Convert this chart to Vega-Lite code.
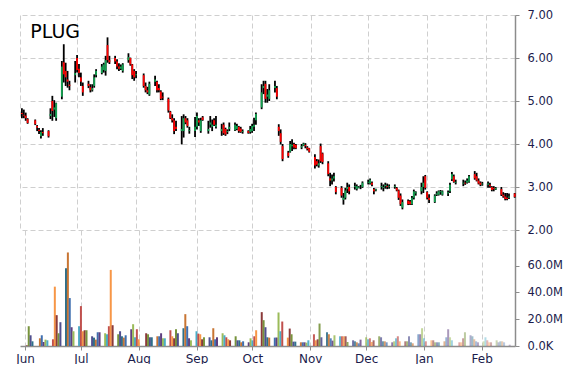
{
  "$schema": "https://vega.github.io/schema/vega-lite/v6.json",
  "background": "white",
  "padding": {"left": 15, "top": 9, "right": 0, "bottom": 0},
  "spacing": 0,
  "bounds": "flush",
  "config": {
    "view": {"stroke": null},
    "font": "DejaVu Sans",
    "axis": {
      "gridColor": "#cfcfcf", "gridDash": [5, 3], "gridWidth": 1,
      "domainColor": "#8c8c8c", "domainWidth": 1.5,
      "tickColor": "#8c8c8c", "tickSize": 4,
      "labelColor": "#1c1c4c", "labelFont": "DejaVu Sans", "labelFontSize": 11.5,
      "title": null
    }
  },
  "datasets": {
    "px": [
      {"d":"2014-06-02","o":4.72,"h":4.83,"l":4.60,"c":4.70,"v":0.5},
      {"d":"2014-06-03","o":4.68,"h":4.80,"l":4.60,"c":4.66,"v":14.75},
      {"d":"2014-06-04","o":4.66,"h":4.73,"l":4.54,"c":4.60,"v":8},
      {"d":"2014-06-05","o":4.58,"h":4.60,"l":4.47,"c":4.49,"v":3.5},
      {"d":"2014-06-09","o":4.55,"h":4.57,"l":4.44,"c":4.46,"v":5.75},
      {"d":"2014-06-10","o":4.42,"h":4.44,"l":4.30,"c":4.38,"v":8},
      {"d":"2014-06-11","o":4.33,"h":4.37,"l":4.23,"c":4.30,"v":3},
      {"d":"2014-06-12","o":4.18,"h":4.32,"l":4.13,"c":4.28,"v":4.75},
      {"d":"2014-06-13","o":4.28,"h":4.37,"l":4.19,"c":4.25,"v":4.25},
      {"d":"2014-06-16","o":4.30,"h":4.32,"l":4.15,"c":4.18,"v":5},
      {"d":"2014-06-17","o":4.65,"h":4.83,"l":4.58,"c":4.70,"v":44.25},
      {"d":"2014-06-18","o":5.00,"h":5.12,"l":4.54,"c":4.77,"v":23},
      {"d":"2014-06-19","o":4.80,"h":5.02,"l":4.63,"c":4.85,"v":9.5},
      {"d":"2014-06-20","o":4.60,"h":4.96,"l":4.54,"c":4.95,"v":17.75},
      {"d":"2014-06-23","o":5.10,"h":5.93,"l":5.04,"c":5.80,"v":58},
      {"d":"2014-06-24","o":5.90,"h":6.32,"l":5.43,"c":5.62,"v":69.75},
      {"d":"2014-06-25","o":5.70,"h":5.89,"l":5.35,"c":5.55,"v":35.75},
      {"d":"2014-06-26","o":5.50,"h":5.70,"l":5.31,"c":5.45,"v":14},
      {"d":"2014-06-27","o":5.38,"h":5.47,"l":5.25,"c":5.35,"v":11},
      {"d":"2014-06-30","o":5.60,"h":5.93,"l":5.43,"c":5.65,"v":14.75},
      {"d":"2014-07-01","o":6.00,"h":6.07,"l":5.66,"c":5.72,"v":29.75},
      {"d":"2014-07-02","o":5.75,"h":5.86,"l":5.55,"c":5.65,"v":11},
      {"d":"2014-07-03","o":5.55,"h":5.66,"l":5.35,"c":5.45,"v":11.75},
      {"d":"2014-07-04","o":5.35,"h":5.43,"l":5.12,"c":5.20,"v":11.75},
      {"d":"2014-07-07","o":5.40,"h":5.47,"l":5.30,"c":5.35,"v":7.25},
      {"d":"2014-07-08","o":5.32,"h":5.39,"l":5.20,"c":5.25,"v":6.25},
      {"d":"2014-07-09","o":5.25,"h":5.39,"l":5.22,"c":5.30,"v":4.75},
      {"d":"2014-07-10","o":5.35,"h":5.62,"l":5.31,"c":5.55,"v":10.25},
      {"d":"2014-07-11","o":5.60,"h":5.74,"l":5.55,"c":5.70,"v":10.25},
      {"d":"2014-07-14","o":5.65,"h":5.86,"l":5.62,"c":5.80,"v":9.5},
      {"d":"2014-07-15","o":5.72,"h":5.89,"l":5.66,"c":5.85,"v":8.75},
      {"d":"2014-07-16","o":5.70,"h":6.05,"l":5.59,"c":5.95,"v":14.75},
      {"d":"2014-07-17","o":6.30,"h":6.48,"l":5.89,"c":5.95,"v":56.75},
      {"d":"2014-07-18","o":5.95,"h":6.05,"l":5.86,"c":5.90,"v":15.5},
      {"d":"2014-07-21","o":6.00,"h":6.05,"l":5.86,"c":5.92,"v":8.75},
      {"d":"2014-07-22","o":5.92,"h":5.97,"l":5.74,"c":5.80,"v":11},
      {"d":"2014-07-23","o":5.80,"h":5.88,"l":5.70,"c":5.75,"v":7.25},
      {"d":"2014-07-24","o":5.75,"h":5.85,"l":5.72,"c":5.80,"v":6.25},
      {"d":"2014-07-25","o":5.70,"h":5.88,"l":5.66,"c":5.85,"v":8},
      {"d":"2014-07-28","o":5.95,"h":6.11,"l":5.89,"c":6.02,"v":12.5},
      {"d":"2014-07-29","o":6.00,"h":6.01,"l":5.82,"c":5.85,"v":16.25},
      {"d":"2014-07-30","o":5.85,"h":5.86,"l":5.51,"c":5.60,"v":6.5},
      {"d":"2014-07-31","o":5.70,"h":5.74,"l":5.47,"c":5.55,"v":12.5},
      {"d":"2014-08-01","o":5.60,"h":5.70,"l":5.53,"c":5.62,"v":5},
      {"d":"2014-08-05","o":5.60,"h":5.64,"l":5.31,"c":5.35,"v":9.5},
      {"d":"2014-08-06","o":5.35,"h":5.43,"l":5.20,"c":5.25,"v":8.75},
      {"d":"2014-08-07","o":5.25,"h":5.33,"l":5.16,"c":5.20,"v":6.5},
      {"d":"2014-08-08","o":5.15,"h":5.45,"l":5.12,"c":5.40,"v":6.5},
      {"d":"2014-08-11","o":5.45,"h":5.59,"l":5.35,"c":5.50,"v":7.25},
      {"d":"2014-08-12","o":5.45,"h":5.47,"l":5.20,"c":5.25,"v":7.25},
      {"d":"2014-08-13","o":5.30,"h":5.39,"l":5.20,"c":5.25,"v":9.5},
      {"d":"2014-08-14","o":5.22,"h":5.25,"l":5.02,"c":5.05,"v":5.75},
      {"d":"2014-08-15","o":5.10,"h":5.20,"l":5.02,"c":5.08,"v":5.75},
      {"d":"2014-08-18","o":5.05,"h":5.08,"l":4.73,"c":4.78,"v":11.75},
      {"d":"2014-08-19","o":4.75,"h":4.77,"l":4.58,"c":4.60,"v":7.25},
      {"d":"2014-08-20","o":4.60,"h":4.69,"l":4.50,"c":4.55,"v":5.75},
      {"d":"2014-08-21","o":4.55,"h":4.60,"l":4.23,"c":4.30,"v":12.5},
      {"d":"2014-08-22","o":4.40,"h":4.54,"l":4.30,"c":4.35,"v":9.5},
      {"d":"2014-08-25","o":4.30,"h":4.65,"l":3.99,"c":4.35,"v":13.25},
      {"d":"2014-08-26","o":4.30,"h":4.69,"l":4.15,"c":4.60,"v":23.75},
      {"d":"2014-08-27","o":4.60,"h":4.65,"l":4.46,"c":4.50,"v":14.75},
      {"d":"2014-08-28","o":4.55,"h":4.60,"l":4.38,"c":4.42,"v":5.75},
      {"d":"2014-08-29","o":4.30,"h":4.40,"l":4.24,"c":4.32,"v":4.25},
      {"d":"2014-09-01","o":4.30,"h":4.63,"l":4.16,"c":4.40,"v":11},
      {"d":"2014-09-02","o":4.40,"h":4.73,"l":4.34,"c":4.65,"v":9.25},
      {"d":"2014-09-03","o":4.55,"h":4.60,"l":4.42,"c":4.50,"v":8.75},
      {"d":"2014-09-04","o":4.30,"h":4.61,"l":4.26,"c":4.55,"v":5},
      {"d":"2014-09-05","o":4.62,"h":4.65,"l":4.54,"c":4.56,"v":6.5},
      {"d":"2014-09-08","o":4.30,"h":4.54,"l":4.24,"c":4.35,"v":6.5},
      {"d":"2014-09-09","o":4.45,"h":4.65,"l":4.38,"c":4.50,"v":4.25},
      {"d":"2014-09-10","o":4.40,"h":4.57,"l":4.30,"c":4.45,"v":13.25},
      {"d":"2014-09-11","o":4.55,"h":4.60,"l":4.42,"c":4.45,"v":5},
      {"d":"2014-09-12","o":4.40,"h":4.65,"l":4.36,"c":4.45,"v":6.5},
      {"d":"2014-09-15","o":4.30,"h":4.47,"l":4.19,"c":4.35,"v":9.5},
      {"d":"2014-09-16","o":4.45,"h":4.50,"l":4.21,"c":4.25,"v":8},
      {"d":"2014-09-17","o":4.35,"h":4.38,"l":4.19,"c":4.22,"v":6.5},
      {"d":"2014-09-18","o":4.28,"h":4.34,"l":4.23,"c":4.30,"v":5},
      {"d":"2014-09-19","o":4.35,"h":4.50,"l":4.30,"c":4.40,"v":4.25},
      {"d":"2014-09-22","o":4.32,"h":4.50,"l":4.30,"c":4.45,"v":7.25},
      {"d":"2014-09-23","o":4.35,"h":4.47,"l":4.32,"c":4.42,"v":4.25},
      {"d":"2014-09-24","o":4.40,"h":4.42,"l":4.26,"c":4.30,"v":4.25},
      {"d":"2014-09-25","o":4.36,"h":4.40,"l":4.26,"c":4.28,"v":2.75},
      {"d":"2014-09-26","o":4.28,"h":4.34,"l":4.24,"c":4.30,"v":3.5},
      {"d":"2014-09-29","o":4.30,"h":4.32,"l":4.24,"c":4.26,"v":2.75},
      {"d":"2014-09-30","o":4.28,"h":4.42,"l":4.24,"c":4.35,"v":5.75},
      {"d":"2014-10-01","o":4.30,"h":4.47,"l":4.26,"c":4.42,"v":4.25},
      {"d":"2014-10-02","o":4.40,"h":4.61,"l":4.30,"c":4.45,"v":7.25},
      {"d":"2014-10-03","o":4.55,"h":4.73,"l":4.45,"c":4.70,"v":11.75},
      {"d":"2014-10-06","o":4.85,"h":5.39,"l":4.81,"c":5.20,"v":25.25},
      {"d":"2014-10-07","o":5.30,"h":5.47,"l":5.16,"c":5.35,"v":19.25},
      {"d":"2014-10-08","o":5.40,"h":5.47,"l":4.96,"c":5.05,"v":14},
      {"d":"2014-10-09","o":5.10,"h":5.28,"l":4.96,"c":5.15,"v":6.5},
      {"d":"2014-10-10","o":5.05,"h":5.39,"l":5.00,"c":5.25,"v":6.25},
      {"d":"2014-10-13","o":5.30,"h":5.47,"l":5.20,"c":5.35,"v":6.25},
      {"d":"2014-10-14","o":5.30,"h":5.35,"l":5.04,"c":5.10,"v":6.25},
      {"d":"2014-10-15","o":4.40,"h":4.46,"l":4.19,"c":4.30,"v":25},
      {"d":"2014-10-16","o":4.25,"h":4.34,"l":3.99,"c":4.05,"v":11},
      {"d":"2014-10-17","o":3.95,"h":4.00,"l":3.60,"c":3.65,"v":18.25},
      {"d":"2014-10-20","o":3.80,"h":3.84,"l":3.68,"c":3.72,"v":6.25},
      {"d":"2014-10-21","o":3.82,"h":4.07,"l":3.80,"c":4.00,"v":13},
      {"d":"2014-10-22","o":3.95,"h":4.11,"l":3.84,"c":3.98,"v":8.75},
      {"d":"2014-10-23","o":4.00,"h":4.03,"l":3.88,"c":3.92,"v":3.25},
      {"d":"2014-10-24","o":3.98,"h":4.00,"l":3.88,"c":3.90,"v":3.25},
      {"d":"2014-10-27","o":3.92,"h":4.00,"l":3.88,"c":3.95,"v":2.75},
      {"d":"2014-10-28","o":3.96,"h":4.03,"l":3.95,"c":4.01,"v":2.75},
      {"d":"2014-10-29","o":3.98,"h":4.02,"l":3.90,"c":3.95,"v":2.75},
      {"d":"2014-10-30","o":3.92,"h":3.95,"l":3.85,"c":3.88,"v":2.5},
      {"d":"2014-10-31","o":3.90,"h":3.91,"l":3.80,"c":3.82,"v":4.25},
      {"d":"2014-11-03","o":3.70,"h":3.76,"l":3.43,"c":3.50,"v":8.75},
      {"d":"2014-11-04","o":3.60,"h":3.65,"l":3.48,"c":3.52,"v":4.25},
      {"d":"2014-11-05","o":3.50,"h":3.64,"l":3.45,"c":3.55,"v":5},
      {"d":"2014-11-06","o":3.95,"h":4.01,"l":3.56,"c":3.60,"v":16.75},
      {"d":"2014-11-07","o":3.78,"h":3.80,"l":3.53,"c":3.58,"v":6.5},
      {"d":"2014-11-10","o":3.55,"h":3.60,"l":3.25,"c":3.30,"v":10.25},
      {"d":"2014-11-11","o":3.20,"h":3.33,"l":3.02,"c":3.15,"v":8.75},
      {"d":"2014-11-12","o":3.15,"h":3.29,"l":3.06,"c":3.20,"v":5.75},
      {"d":"2014-11-13","o":3.20,"h":3.33,"l":3.13,"c":3.25,"v":4},
      {"d":"2014-11-14","o":3.00,"h":3.02,"l":2.83,"c":2.88,"v":8},
      {"d":"2014-11-17","o":2.98,"h":3.02,"l":2.75,"c":2.80,"v":7.25},
      {"d":"2014-11-18","o":2.70,"h":2.86,"l":2.59,"c":2.75,"v":7.25},
      {"d":"2014-11-19","o":2.75,"h":2.98,"l":2.71,"c":2.92,"v":7.25},
      {"d":"2014-11-20","o":2.95,"h":3.10,"l":2.86,"c":3.00,"v":7.25},
      {"d":"2014-11-21","o":3.00,"h":3.06,"l":2.83,"c":2.90,"v":3},
      {"d":"2014-11-24","o":3.00,"h":3.10,"l":2.94,"c":3.02,"v":4.25},
      {"d":"2014-11-25","o":2.95,"h":3.06,"l":2.92,"c":3.02,"v":3.5},
      {"d":"2014-11-26","o":2.98,"h":3.02,"l":2.97,"c":3.00,"v":2.75},
      {"d":"2014-11-27","o":3.00,"h":3.05,"l":2.95,"c":3.00,"v":2},
      {"d":"2014-11-28","o":3.00,"h":3.13,"l":2.98,"c":3.10,"v":4.75},
      {"d":"2014-12-01","o":3.10,"h":3.17,"l":3.06,"c":3.12,"v":6.5},
      {"d":"2014-12-02","o":3.08,"h":3.20,"l":3.06,"c":3.17,"v":5},
      {"d":"2014-12-03","o":3.10,"h":3.13,"l":3.02,"c":3.05,"v":5.75},
      {"d":"2014-12-04","o":2.95,"h":2.98,"l":2.83,"c":2.90,"v":3},
      {"d":"2014-12-05","o":2.92,"h":2.96,"l":2.90,"c":2.95,"v":4.25},
      {"d":"2014-12-08","o":3.00,"h":3.10,"l":2.94,"c":3.02,"v":7.25},
      {"d":"2014-12-09","o":2.98,"h":3.06,"l":2.90,"c":3.00,"v":6.5},
      {"d":"2014-12-10","o":3.02,"h":3.10,"l":2.96,"c":3.05,"v":3.5},
      {"d":"2014-12-11","o":3.02,"h":3.08,"l":2.95,"c":3.00,"v":3.5},
      {"d":"2014-12-12","o":3.00,"h":3.06,"l":2.96,"c":3.02,"v":2.75},
      {"d":"2014-12-15","o":3.00,"h":3.06,"l":2.96,"c":3.02,"v":2.75},
      {"d":"2014-12-16","o":2.98,"h":3.00,"l":2.90,"c":2.92,"v":3.5},
      {"d":"2014-12-17","o":2.92,"h":2.94,"l":2.70,"c":2.75,"v":5.75},
      {"d":"2014-12-18","o":2.80,"h":2.85,"l":2.56,"c":2.60,"v":7.25},
      {"d":"2014-12-19","o":2.52,"h":2.71,"l":2.48,"c":2.65,"v":3.5},
      {"d":"2014-12-22","o":2.68,"h":2.71,"l":2.58,"c":2.60,"v":3.5},
      {"d":"2014-12-23","o":2.66,"h":2.70,"l":2.58,"c":2.60,"v":3.5},
      {"d":"2014-12-24","o":2.60,"h":2.79,"l":2.58,"c":2.75,"v":7.25},
      {"d":"2014-12-25","o":2.75,"h":2.94,"l":2.71,"c":2.90,"v":2.75},
      {"d":"2014-12-26","o":2.85,"h":2.90,"l":2.80,"c":2.88,"v":2},
      {"d":"2014-12-29","o":2.90,"h":3.10,"l":2.83,"c":3.00,"v":8.75},
      {"d":"2014-12-30","o":3.00,"h":3.25,"l":2.86,"c":3.10,"v":8.75},
      {"d":"2014-12-31","o":3.25,"h":3.28,"l":2.94,"c":2.98,"v":13.25},
      {"d":"2015-01-01","o":2.88,"h":2.90,"l":2.71,"c":2.75,"v":5.75},
      {"d":"2015-01-02","o":2.75,"h":2.83,"l":2.63,"c":2.70,"v":3.5},
      {"d":"2015-01-05","o":2.65,"h":2.83,"l":2.63,"c":2.80,"v":4.25},
      {"d":"2015-01-06","o":2.82,"h":2.90,"l":2.79,"c":2.85,"v":4.25},
      {"d":"2015-01-07","o":2.82,"h":2.92,"l":2.80,"c":2.90,"v":2.75},
      {"d":"2015-01-08","o":2.88,"h":2.93,"l":2.82,"c":2.90,"v":2.75},
      {"d":"2015-01-09","o":2.82,"h":2.92,"l":2.80,"c":2.90,"v":2.75},
      {"d":"2015-01-12","o":2.85,"h":2.92,"l":2.79,"c":2.88,"v":3.5},
      {"d":"2015-01-13","o":2.90,"h":3.10,"l":2.86,"c":3.05,"v":6.5},
      {"d":"2015-01-14","o":3.18,"h":3.35,"l":3.14,"c":3.30,"v":12.5},
      {"d":"2015-01-15","o":3.25,"h":3.29,"l":3.10,"c":3.12,"v":6.5},
      {"d":"2015-01-16","o":3.10,"h":3.17,"l":3.06,"c":3.12,"v":4.25},
      {"d":"2015-01-20","o":3.08,"h":3.17,"l":3.02,"c":3.10,"v":2.75},
      {"d":"2015-01-21","o":3.10,"h":3.15,"l":3.05,"c":3.08,"v":2.75},
      {"d":"2015-01-22","o":3.10,"h":3.20,"l":3.08,"c":3.15,"v":5.75},
      {"d":"2015-01-23","o":3.12,"h":3.28,"l":3.10,"c":3.25,"v":10.25},
      {"d":"2015-01-26","o":3.30,"h":3.37,"l":3.17,"c":3.20,"v":8},
      {"d":"2015-01-27","o":3.25,"h":3.33,"l":3.13,"c":3.15,"v":7.25},
      {"d":"2015-01-28","o":3.15,"h":3.20,"l":3.06,"c":3.08,"v":5},
      {"d":"2015-01-29","o":3.10,"h":3.13,"l":3.02,"c":3.05,"v":3.5},
      {"d":"2015-01-30","o":3.06,"h":3.12,"l":3.03,"c":3.08,"v":2.75},
      {"d":"2015-02-02","o":3.05,"h":3.13,"l":2.98,"c":3.08,"v":3.5},
      {"d":"2015-02-03","o":3.05,"h":3.10,"l":2.98,"c":3.02,"v":6.5},
      {"d":"2015-02-04","o":3.00,"h":3.02,"l":2.90,"c":2.93,"v":4.25},
      {"d":"2015-02-05","o":2.98,"h":3.02,"l":2.90,"c":2.95,"v":2.75},
      {"d":"2015-02-06","o":2.94,"h":3.00,"l":2.93,"c":2.98,"v":2.75},
      {"d":"2015-02-09","o":2.95,"h":3.00,"l":2.79,"c":2.82,"v":4.25},
      {"d":"2015-02-10","o":2.82,"h":2.88,"l":2.75,"c":2.78,"v":2.75},
      {"d":"2015-02-11","o":2.78,"h":2.86,"l":2.69,"c":2.72,"v":3.5},
      {"d":"2015-02-12","o":2.75,"h":2.86,"l":2.69,"c":2.72,"v":3.5},
      {"d":"2015-02-13","o":2.75,"h":2.85,"l":2.72,"c":2.78,"v":2.75},
      {"d":"2015-02-16","o":2.85,"h":2.86,"l":2.75,"c":2.77,"v":1}
    ]
  },
  "data": {"name": "px"},
  "vconcat": [
    {
      "width": 495,
      "height": 215,
      "layer": [
        {
          "mark": {"type": "rule", "strokeWidth": 1.8, "color": "#000000"},
          "encoding": {
            "x": {
              "field": "d", "type": "temporal",
              "scale": {"type": "utc", "domain": [{"year": 2014, "month": 6, "date": 1, "utc": true}, {"year": 2015, "month": 2, "date": 16, "hours": 4, "utc": true}]},
              "axis": {"orient": "bottom", "labels": false, "ticks": false, "domain": false, "grid": true, "tickCount": "month", "title": null}
            },
            "y": {
              "field": "h", "type": "quantitative",
              "scale": {"domain": [2, 7], "nice": false, "zero": false},
              "axis": {"orient": "right", "values": [2, 3, 4, 5, 6, 7], "format": ".2f", "grid": true, "labelPadding": 8, "title": null}
            },
            "y2": {"field": "l"}
          }
        },
        {
          "mark": {"type": "rule", "strokeWidth": 1.8},
          "encoding": {
            "x": {"field": "d", "type": "temporal"},
            "y": {"field": "o", "type": "quantitative"},
            "y2": {"field": "c"},
            "color": {"condition": {"test": "datum.c >= datum.o", "value": "#12a150"}, "value": "#ff0000"}
          }
        },
        {
          "data": {"values": [{"t": "PLUG"}]},
          "mark": {"type": "text", "align": "left", "baseline": "alphabetic", "fontSize": 19, "font": "DejaVu Sans", "color": "#000000"},
          "encoding": {
            "x": {"datum": {"year": 2014, "month": 6, "date": 6, "hours": 10, "utc": true}, "type": "temporal"},
            "y": {"datum": 6.47, "type": "quantitative"},
            "text": {"field": "t"}
          }
        }
      ]
    },
    {
      "width": 495,
      "height": 116,
      "mark": {"type": "bar", "width": 2},
      "encoding": {
        "x": {
          "field": "d", "type": "temporal",
          "scale": {"type": "utc", "domain": [{"year": 2014, "month": 6, "date": 1, "utc": true}, {"year": 2015, "month": 2, "date": 16, "hours": 4, "utc": true}]},
          "axis": {"format": "%b", "tickCount": "month", "grid": true, "labelFlush": false, "labelPadding": 3, "labelFontSize": 12, "title": null}
        },
        "y": {
          "field": "v", "type": "quantitative",
          "scale": {"domain": [0, 86.5], "nice": false},
          "axis": {"orient": "right", "values": [0, 20, 40, 60], "labelExpr": "datum.value == 0 ? '0.0K' : format(datum.value, '.1f') + 'M'", "grid": false, "labelPadding": 8, "title": null}
        },
        "color": {
          "field": "d", "type": "nominal", "legend": null,
          "scale": {"range": ["#8b3a3a", "#77933c", "#4f4f8f", "#2e6f8a", "#c87533", "#3f6faf", "#5f3f7f", "#9bbb59", "#4bacc6", "#c0504d", "#f79646"]}
        },
        "opacity": {
          "field": "d", "type": "temporal", "legend": null,
          "scale": {"domain": [{"year": 2014, "month": 10, "date": 20, "utc": true}, {"year": 2015, "month": 2, "date": 16, "utc": true}], "range": [1, 0.35], "clamp": true}
        }
      }
    }
  ]
}
